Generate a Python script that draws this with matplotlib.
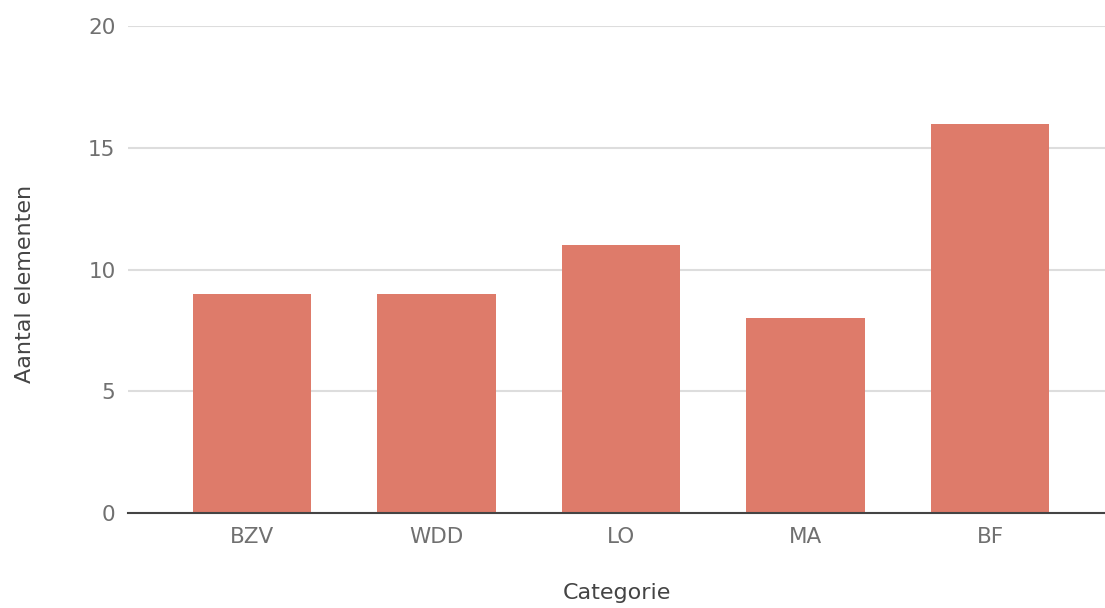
import matplotlib.pyplot as plt

categories = ['BZV', 'WDD', 'LO', 'MA', 'BF']
counts = [9, 9, 11, 8, 16]
yticks = [0, 5, 10, 15, 20]

fig = plt.figure(figsize=(11.05, 6.08), dpi=100)
ax = fig.add_axes([0.1158, 0.156, 1 - 0.1158, 0.801])

ax.bar(range(len(categories)), counts, width=0.64, color='#de7b6a', zorder=3)

ax.set_xlim(-0.672, 4.623)
ax.set_ylim(0, 20)
ax.set_yticks(yticks)
ax.set_xticks(range(len(categories)))
ax.set_xticklabels(categories)

ax.grid(axis='y', color='#dddddd', linewidth=1.5, zorder=0)
for s in ['top', 'right', 'left']:
    ax.spines[s].set_visible(False)
ax.spines['bottom'].set_color('#444444')
ax.spines['bottom'].set_linewidth(1.5)
ax.spines['bottom'].set_zorder(4)

ax.tick_params(axis='both', length=0, labelsize=15.5, labelcolor='#707070')
ax.tick_params(axis='x', pad=10)
ax.tick_params(axis='y', pad=9)

ax.set_xlabel('Categorie', fontsize=16, color='#444444', labelpad=26)
ax.set_ylabel('Aantal elementen', fontsize=16, color='#444444')
ax.yaxis.set_label_coords(-0.095, 0.47)

plt.savefig('out.png', dpi=100)
